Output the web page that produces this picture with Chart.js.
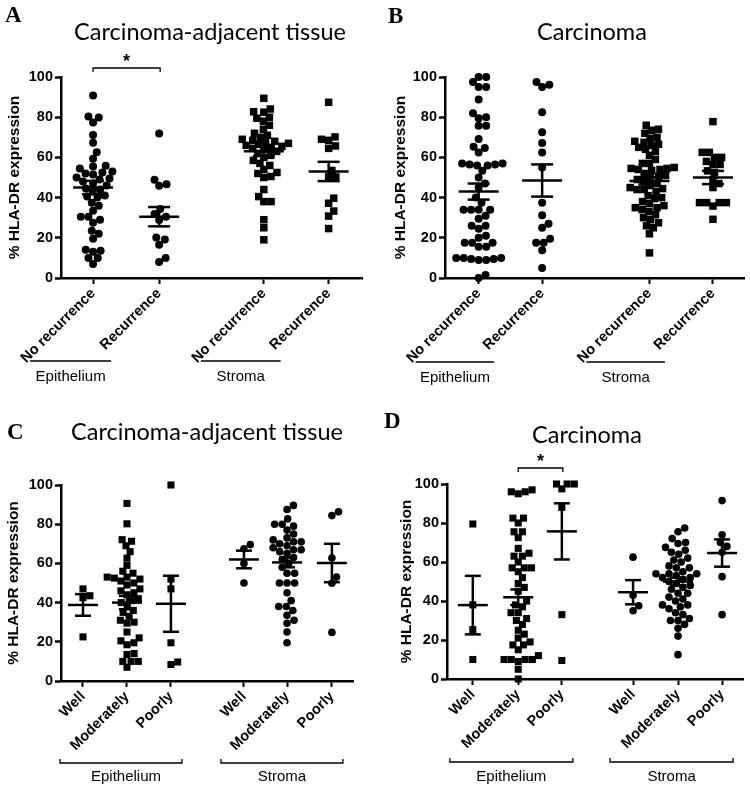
<!DOCTYPE html>
<html>
<head>
<meta charset="utf-8">
<script src="https://cdn.jsdelivr.net/npm/chart.js@4.4.1/dist/chart.umd.min.js"></script>
<style>
  html, body { margin: 0; padding: 0; background: #fff; }
  #wrap { position: relative; width: 750px; height: 786px; }
  canvas { position: absolute; }
</style>
</head>
<body>
<div id="wrap">
  <canvas id="panelA" width="375" height="393" style="left:0;top:0"></canvas>
  <canvas id="panelB" width="375" height="393" style="left:375px;top:0"></canvas>
  <canvas id="panelC" width="375" height="393" style="left:0;top:393px"></canvas>
  <canvas id="panelD" width="375" height="393" style="left:375px;top:393px"></canvas>
</div>
<script>
// categories & ticks
const catsRecurrence = ["No recurrence", "Recurrence", "No recurrence", "Recurrence"];
const catsGrade = ["Well", "Moderately", "Poorly", "Well", "Moderately", "Poorly"];
const yTickValues = [0, 20, 40, 60, 80, 100];

// A - carcinoma-adjacent tissue, by recurrence
const aEpiNoRec = [90.8, 80.4, 79.9, 77.4, 71.2, 67.3, 62.6, 59.3, 55.9, 55.5, 54.5, 53, 52.5, 52, 51.5, 50, 49.5, 49, 48, 47, 46, 44.5, 44, 43, 41, 40.5, 40, 37.5, 36, 33.5, 30.5, 30.5, 29, 27.5, 23.5, 22, 19.5, 14, 13.5, 13, 10, 10, 7];
const aEpiRec = [71.9, 48.9, 46.7, 45.9, 34.3, 31.8, 30.5, 28.8, 20.1, 19.1, 16.6, 9.9, 7.9];
const aStrNoRec = [89.4, 84.1, 82.7, 82.5, 80, 79.5, 78, 76, 74, 72, 71, 70, 69, 68.5, 68, 67.5, 67, 66.5, 66, 65.5, 65, 64.5, 64, 63, 62, 61, 60, 58.5, 57, 56, 54, 52.5, 52, 50.5, 50, 44, 40.5, 38, 38, 29, 25, 19];
const aStrRec = [87.4, 70.2, 69, 68.5, 65.7, 64.5, 53.5, 50.3, 50.3, 39.7, 37.2, 33.3, 30.8, 24.6];
const aMeans = [45, 30.5, 63, 53];
const aSems = [3.3, 4.8, 2.3, 4.8];

// B - carcinoma, by recurrence
const bEpiNoRec = [100, 100, 97.5, 95, 95, 88.8, 82, 80, 79.5, 75.7, 75.7, 69.2, 65.3, 64.7, 62.5, 57, 57, 56.5, 56.5, 56, 56, 53.3, 50, 47, 45, 40, 37.5, 34, 34, 34, 34, 31, 29.5, 26, 26, 24.5, 21, 20, 17.5, 17.5, 17.5, 15.5, 15.5, 10, 10, 10, 9.5, 9.5, 9, 9, 1.5, 0];
const bEpiRec = [97.5, 96.2, 95, 82.5, 72.5, 67.2, 62.5, 55, 37.5, 31.2, 27, 25, 19.5, 17.5, 17.5, 13.8, 5];
const bStrNoRec = [76, 74, 73.5, 72, 70, 69.5, 68, 67.5, 66.5, 66, 65, 64, 63, 61, 59, 57, 57, 55, 54.5, 54.5, 54, 54, 53.5, 52, 51, 50.5, 50, 49, 48, 47, 46, 45, 44.5, 44, 44, 43, 41, 40, 39.5, 38, 37, 36, 35, 35, 34, 33, 31.5, 30, 29, 27.5, 26, 25, 22, 12.5];
const bStrRec = [77.8, 62.5, 62.5, 60, 60, 58, 56.5, 56.5, 53.3, 52.5, 49, 47, 45, 37.5, 37.5, 37.5, 37.5, 35.8, 29.2];
const bMeans = [43, 48.5, 48.3, 50];
const bSems = [4, 8, 1.8, 3.3];

// C - carcinoma-adjacent tissue, by differentiation
const cEpiWell = [47, 43.5, 42.5, 22.5];
const cEpiMod = [90.6, 80.2, 72.1, 71.3, 69, 66, 62.7, 59, 56, 55, 53, 53, 52.5, 52, 51, 50, 49, 47, 46, 45, 44, 42, 41, 40, 38, 36, 35, 33, 31, 30, 29.5, 25, 22, 20.5, 19.5, 18.5, 14, 13.5, 10, 10, 10, 7];
const cEpiPoor = [100, 52, 47, 19.5, 9.7, 8.4];
const cStrWell = [69.6, 67.5, 60, 50];
const cStrMod = [89.6, 87.5, 82.7, 80, 80, 79, 77, 75, 73, 72, 71, 71, 70, 69, 68, 67, 67, 66, 65, 63, 62, 60, 58, 55, 55, 50, 50, 50, 45, 41, 38, 38, 36, 33.5, 31, 29.5, 25, 19.5];
const cStrPoor = [86.3, 84.4, 62.7, 53, 49.9, 24.8];
const cMeans = [38.8, 40, 39.4, 62, 60.5, 60.2];
const cSems = [5.5, 3.4, 14.3, 4.5, 2.5, 9.8];

// D - carcinoma, by differentiation
const dEpiWell = [79.5, 38, 25.3, 10];
const dEpiMod = [97, 96, 96, 95, 82.5, 82.5, 80, 75.5, 75.5, 72.5, 67, 64.5, 63, 63, 60, 57, 57, 57, 55, 52, 49, 47, 45, 40, 38, 37, 34, 34, 31, 30, 28, 25, 23, 21, 19, 17.5, 17.5, 15, 12, 10, 10, 10, 10, 9, 5, 0];
const dEpiPoor = [100, 100, 100, 97.5, 88, 33, 9.5];
const dStrWell = [62.5, 43, 37.6, 35];
const dStrMod = [77.4, 75.5, 72, 70, 69.5, 67.5, 66, 65, 64, 62, 61, 60, 58, 57, 57, 55, 54, 54, 54, 53, 52, 52, 51, 50, 49, 48, 47, 46, 44, 44, 42, 41, 40, 38, 38, 37, 36, 34, 33, 31, 30, 30, 28, 26, 22, 12.5];
const dStrPoor = [91.5, 74, 70, 68, 65, 52.5, 33];
const dMeans = [37.9, 41.9, 75.7, 44.5, 50, 64.6];
const dSems = [15, 4, 14.4, 6.2, 2, 7];

const SANS = '"Liberation Sans", Arial, sans-serif';

// simple beeswarm: horizontal pixel offsets so the dots do not overlap
function swarm(vals, pxPerY, d) {
  const order = vals.map((_, i) => i).sort((a, b) => vals[a] - vals[b]);
  const placed = [];
  const off = [];
  order.forEach(i => {
    const y = vals[i] * pxPerY;
    const near = placed.filter(p => Math.abs(p.y - y) < d);
    const cands = [0];
    near.forEach(p => {
      const dx = Math.sqrt(d * d - (p.y - y) * (p.y - y));
      cands.push(p.x + dx, p.x - dx);
    });
    cands.sort((a, b) => Math.abs(a) - Math.abs(b));
    const x = cands.find(c => near.every(p => (p.x - c) ** 2 + (p.y - y) ** 2 >= d * d - 0.01));
    placed.push({ x, y });
    off[i] = x;
  });
  return off;
}

function line(ctx, x1, y1, x2, y2) {
  ctx.beginPath();
  ctx.moveTo(x1, y1);
  ctx.lineTo(x2, y2);
  ctx.stroke();
}

function makePanel(id, p) {
  const a = p.area;
  const pxPerY = (a.bottom - a.top) / 100;
  const pxPerX = (a.right - a.left) / p.xMax;
  const padLeft = p.yTitleCenter - 9;

  const datasets = p.groups.map((vals, g) => {
    const round = p.shapes[g] === "circle";
    const offs = swarm(vals, pxPerY, round ? 7.6 : 7.2);
    return {
      data: vals.map((v, i) => ({ x: p.pos[g] + offs[i] / pxPerX, y: v })),
      pointStyle: p.shapes[g],
      pointRadius: round ? p.rCircle : p.rRect,
      backgroundColor: "#000",
      borderColor: "#000",
      borderWidth: 0,
      clip: false,
    };
  });

  const extras = {
    id: "extras",
    afterDatasetsDraw(chart) {
      const ctx = chart.ctx;
      const xs = chart.scales.x, ys = chart.scales.y;
      ctx.save();
      ctx.strokeStyle = "#000";
      ctx.lineWidth = 2.5;
      p.means.forEach((m, g) => {
        const cx = xs.getPixelForValue(p.pos[g]);
        const ym = ys.getPixelForValue(m);
        const yt = ys.getPixelForValue(m + p.sems[g]);
        const yb = ys.getPixelForValue(m - p.sems[g]);
        line(ctx, cx - p.meanHalf, ym, cx + p.meanHalf, ym);
        line(ctx, cx - p.capHalf, yt, cx + p.capHalf, yt);
        line(ctx, cx - p.capHalf, yb, cx + p.capHalf, yb);
        line(ctx, cx, yt, cx, yb);
      });
      ctx.restore();
    },
    afterDraw(chart) {
      const ctx = chart.ctx;
      const xs = chart.scales.x;
      ctx.save();
      ctx.fillStyle = "#000";
      ctx.strokeStyle = "#000";

      // panel letter
      ctx.font = 'bold 23px "Liberation Serif", serif';
      ctx.textAlign = "left";
      ctx.textBaseline = "alphabetic";
      ctx.fillText(p.letter, p.letterX, p.letterY);

      // title
      ctx.font = '23.5px Lato, "Open Sans", sans-serif';
      ctx.textAlign = "center";
      ctx.textBaseline = "middle";
      ctx.fillText(p.title, p.titleX, p.titleY);

      // significance bracket
      if (p.star) {
        const x1 = xs.getPixelForValue(p.pos[p.star.from]);
        const x2 = xs.getPixelForValue(p.pos[p.star.to]) + 1;
        const y = p.star.y;
        ctx.lineWidth = 1.3;
        ctx.beginPath();
        ctx.moveTo(x1, y + 4);
        ctx.lineTo(x1, y);
        ctx.lineTo(x2, y);
        ctx.lineTo(x2, y + 4);
        ctx.stroke();
        ctx.font = "bold 18px " + SANS;
        ctx.textBaseline = "alphabetic";
        ctx.fillText("*", (x1 + x2) / 2, y - 1);
      }

      // group labels under the axis
      ctx.lineWidth = 1.3;
      ctx.font = "15px " + SANS;
      ctx.textAlign = "center";
      ctx.textBaseline = "alphabetic";
      p.groupLabels.forEach(gl => {
        const first = xs.getPixelForValue(p.pos[gl.from]);
        const last = xs.getPixelForValue(p.pos[gl.to]);
        let x1, x2;
        if (p.bracket) {
          x1 = first - 23;
          x2 = last + 11;
          ctx.beginPath();
          ctx.moveTo(x1, p.lineY - 4);
          ctx.lineTo(x1, p.lineY);
          ctx.lineTo(x2, p.lineY);
          ctx.lineTo(x2, p.lineY - 4);
          ctx.stroke();
        } else {
          x1 = first - 63;
          x2 = last - 48;
          line(ctx, x1, p.lineY, x2, p.lineY);
        }
        ctx.fillText(gl.label, (x1 + x2) / 2 + (gl.shift || 0), p.textY);
      });
      ctx.restore();
    },
  };

  return new Chart(document.getElementById(id), {
    type: "scatter",
    data: { datasets },
    options: {
      responsive: false,
      animation: false,
      events: [],
      layout: {
        padding: { left: padLeft, top: a.top, right: 375 - a.right, bottom: 10 },
      },
      plugins: { legend: { display: false }, tooltip: { enabled: false } },
      scales: {
        x: {
          type: "linear",
          min: 0,
          max: p.xMax,
          afterBuildTicks: s => { s.ticks = p.pos.map(v => ({ value: v })); },
          afterFit: s => { s.height = 393 - a.bottom - 10; },
          ticks: {
            autoSkip: false,
            minRotation: 45,
            maxRotation: 45,
            padding: 1,
            color: "#000",
            font: { family: SANS, size: 14.5, weight: "bold" },
            callback: (v, i) => p.cats[i],
          },
          grid: { drawOnChartArea: false, drawTicks: true, tickLength: 6, tickWidth: 2, tickColor: "#000" },
          border: { display: true, color: "#000", width: 2.5 },
        },
        y: {
          min: 0,
          max: 100,
          afterBuildTicks: s => { s.ticks = yTickValues.map(v => ({ value: v })); },
          afterFit: s => { s.width = a.left - padLeft; },
          ticks: {
            padding: 2,
            color: "#000",
            font: { family: SANS, size: 14.5, weight: "bold" },
          },
          grid: { drawOnChartArea: false, drawTicks: true, tickLength: 6, tickWidth: 2.5, tickColor: "#000" },
          border: { display: true, color: "#000", width: 2.5 },
          title: {
            display: true,
            text: "% HLA-DR expression",
            color: "#000",
            padding: 0,
            font: { family: SANS, size: 15.5, weight: "bold" },
          },
        },
      },
    },
    plugins: [extras],
  });
}

makePanel("panelA", {
  letter: "A", letterX: 5, letterY: 22,
  title: "Carcinoma-adjacent tissue", titleX: 210, titleY: 32,
  groups: [aEpiNoRec, aEpiRec, aStrNoRec, aStrRec],
  means: aMeans, sems: aSems,
  shapes: ["circle", "circle", "rect", "rect"],
  cats: catsRecurrence,
  pos: [0.49, 1.5, 3.1, 4.09], xMax: 4.6,
  area: { left: 61, right: 362, top: 77, bottom: 278 },
  yTitleCenter: 14,
  rCircle: 4, rRect: 5.3, meanHalf: 20, capHalf: 11,
  star: { from: 0, to: 1, y: 68 },
  bracket: false, lineY: 361, textY: 381,
  groupLabels: [{ label: "Epithelium", from: 0, to: 1 }, { label: "Stroma", from: 2, to: 3 }],
});

makePanel("panelB", {
  letter: "B", letterX: 13, letterY: 23,
  title: "Carcinoma", titleX: 217, titleY: 32,
  groups: [bEpiNoRec, bEpiRec, bStrNoRec, bStrRec],
  means: bMeans, sems: bSems,
  shapes: ["circle", "circle", "rect", "rect"],
  cats: catsRecurrence,
  pos: [0.53, 1.53, 3.22, 4.22], xMax: 4.72,
  area: { left: 70, right: 372, top: 77, bottom: 278 },
  yTitleCenter: 25,
  rCircle: 4, rRect: 5.3, meanHalf: 20, capHalf: 11,
  bracket: false, lineY: 362, textY: 382,
  groupLabels: [{ label: "Epithelium", from: 0, to: 1 }, { label: "Stroma", from: 2, to: 3 }],
});

makePanel("panelC", {
  letter: "C", letterX: 7, letterY: 46,
  title: "Carcinoma-adjacent tissue", titleX: 207, titleY: 39,
  groups: [cEpiWell, cEpiMod, cEpiPoor, cStrWell, cStrMod, cStrPoor],
  means: cMeans, sems: cSems,
  shapes: ["rect", "rect", "rect", "circle", "circle", "circle"],
  cats: catsGrade,
  pos: [0.5, 1.5, 2.5, 4.16, 5.14, 6.16], xMax: 6.64,
  area: { left: 61, right: 353, top: 92, bottom: 288 },
  yTitleCenter: 13,
  rCircle: 3.8, rRect: 5, meanHalf: 15, capHalf: 8,
  bracket: true, lineY: 370, textY: 388,
  groupLabels: [{ label: "Epithelium", from: 0, to: 2, shift: 5 }, { label: "Stroma", from: 3, to: 5 }],
});

makePanel("panelD", {
  letter: "D", letterX: 9, letterY: 35,
  title: "Carcinoma", titleX: 212, titleY: 42,
  groups: [dEpiWell, dEpiMod, dEpiPoor, dStrWell, dStrMod, dStrPoor],
  means: dMeans, sems: dSems,
  shapes: ["rect", "rect", "rect", "circle", "circle", "circle"],
  cats: catsGrade,
  pos: [0.58, 1.6, 2.58, 4.18, 5.19, 6.18], xMax: 6.65,
  area: { left: 72, right: 368, top: 91, bottom: 286 },
  yTitleCenter: 31,
  rCircle: 3.8, rRect: 5, meanHalf: 15, capHalf: 8,
  star: { from: 1, to: 2, y: 75 },
  bracket: true, lineY: 369, textY: 388,
  groupLabels: [{ label: "Epithelium", from: 0, to: 2 }, { label: "Stroma", from: 3, to: 5 }],
});
</script>
</body>
</html>
